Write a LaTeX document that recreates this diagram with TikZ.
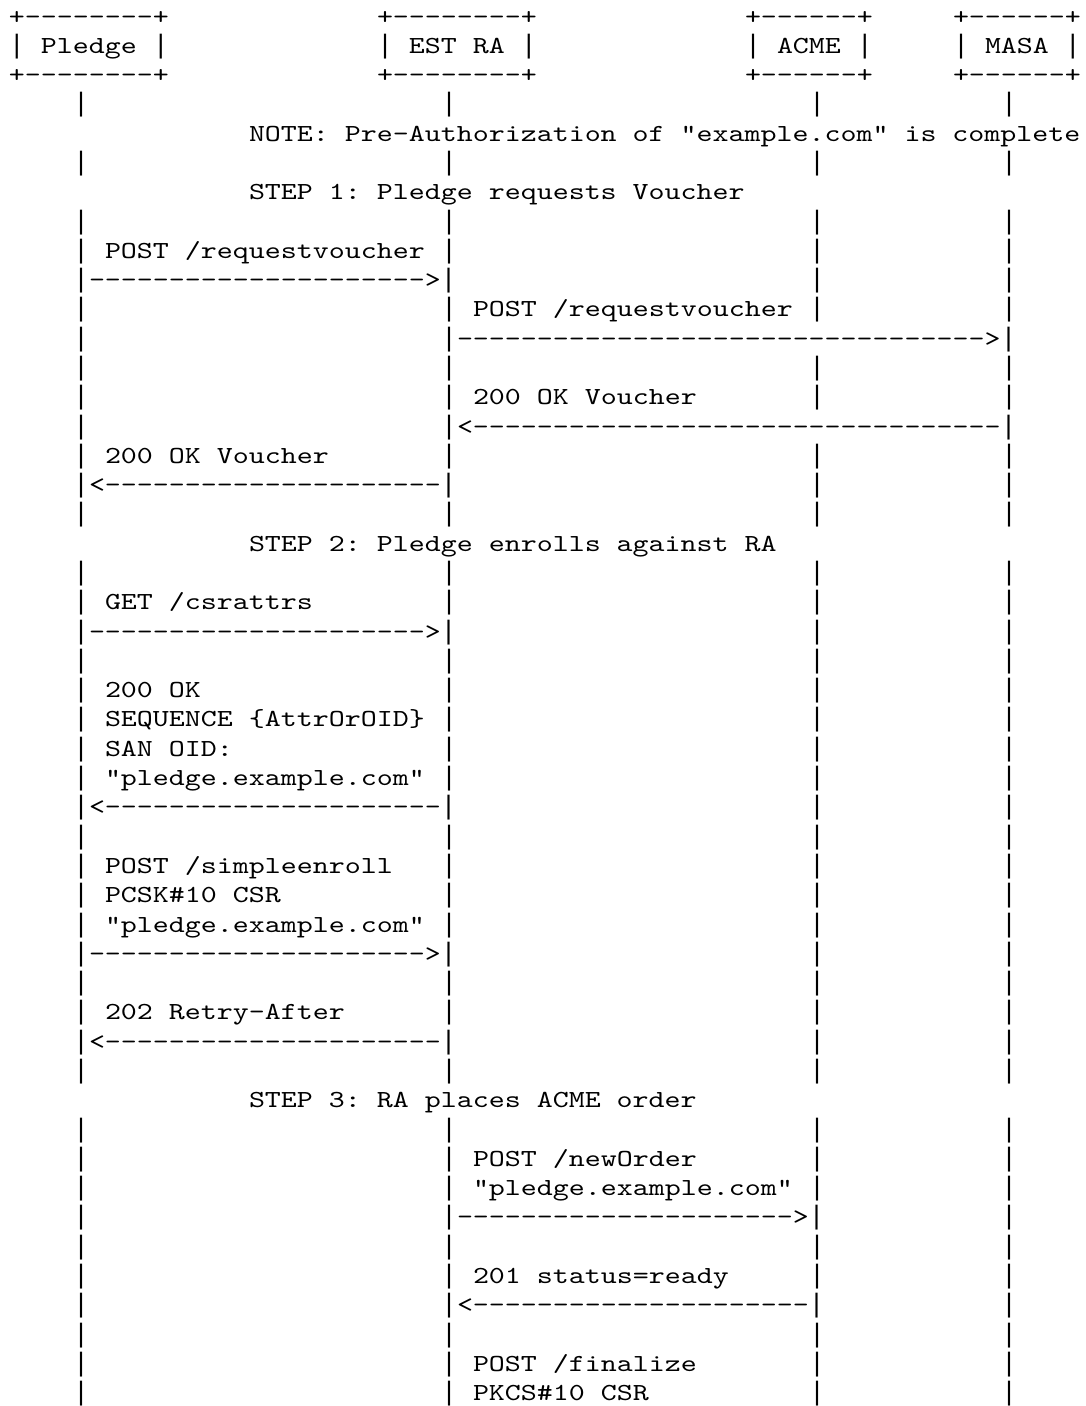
\documentclass[tikz,border=0pt]{standalone}
\usepackage{fontspec}
\setmonofont{lmmono10-regular.otf}[FakeStretch=1.243]
\newfontfamily\barfont{Liberation Mono}
\tikzset{
  asctxt/.style={anchor=base west, inner sep=0pt, outer sep=0pt, text=black,
    font=\ttfamily\fontsize{24.5pt}{29.29pt}\selectfont}
}
% a vertical bar character that fills the line height
\newcommand\vb{{\barfont\fontsize{26.67pt}{29.29pt}\selectfont|}}
% place text at (row, column) of the character grid
\newcommand\asc[3]{\node[asctxt] (t#1-#2) at ({9+16*#2},{-24-(#1-1)*29.29}) {#3};}
\begin{document}
\begin{tikzpicture}[x=1pt,y=1pt]
\useasboundingbox (0,0) rectangle (1085,-1406);
% participant boxes
\asc{1}{0}{+--------+}  \asc{1}{23}{+--------+}  \asc{1}{46}{+------+}  \asc{1}{59}{+------+}
\asc{2}{0}{\vb{} Pledge \vb}  \asc{2}{23}{\vb{} EST RA \vb}  \asc{2}{46}{\vb{} ACME \vb}  \asc{2}{59}{\vb{} MASA \vb}
\asc{3}{0}{+--------+}  \asc{3}{23}{+--------+}  \asc{3}{46}{+------+}  \asc{3}{59}{+------+}
% lifelines
\foreach \r in {4,6,8,9,11,13,14,16,18,20,21,23,24,25,26,27,29,30,31,32,34,35,37,39,40,41,43,44,46,47,48}{
  \foreach \c in {4,27,50,62}{\asc{\r}{\c}{\vb}}
}
\foreach \r in {10,17,22,28,33,36}{\asc{\r}{50}{\vb}\asc{\r}{62}{\vb}}
\foreach \r in {12,15}{\asc{\r}{4}{\vb}}
\foreach \r in {42,45}{\asc{\r}{4}{\vb}\asc{\r}{62}{\vb}}
% notes and steps
\asc{5}{15}{NOTE: Pre-Authorization of "example.com" is complete}
\asc{7}{15}{STEP 1: Pledge requests Voucher}
\asc{19}{15}{STEP 2: Pledge enrolls against RA}
\asc{38}{15}{STEP 3: RA places ACME order}
% step 1
\asc{9}{6}{POST /requestvoucher}
\asc{10}{4}{\vb--------------------->\vb}
\asc{11}{29}{POST /requestvoucher}
\asc{12}{27}{\vb--------------------------------->\vb}
\asc{14}{29}{200 OK Voucher}
\asc{15}{27}{\vb<---------------------------------\vb}
\asc{16}{6}{200 OK Voucher}
\asc{17}{4}{\vb<---------------------\vb}
% step 2
\asc{21}{6}{GET /csrattrs}
\asc{22}{4}{\vb--------------------->\vb}
\asc{24}{6}{200 OK}
\asc{25}{6}{SEQUENCE \{AttrOrOID\}}
\asc{26}{6}{SAN OID:}
\asc{27}{6}{"pledge.example.com"}
\asc{28}{4}{\vb<---------------------\vb}
\asc{30}{6}{POST /simpleenroll}
\asc{31}{6}{PCSK\#10 CSR}
\asc{32}{6}{"pledge.example.com"}
\asc{33}{4}{\vb--------------------->\vb}
\asc{35}{6}{202 Retry-After}
\asc{36}{4}{\vb<---------------------\vb}
% step 3
\asc{40}{29}{POST /newOrder}
\asc{41}{29}{"pledge.example.com"}
\asc{42}{27}{\vb--------------------->\vb}
\asc{44}{29}{201 status=ready}
\asc{45}{27}{\vb<---------------------\vb}
\asc{47}{29}{POST /finalize}
\asc{48}{29}{PKCS\#10 CSR}
\end{tikzpicture}
\end{document}
